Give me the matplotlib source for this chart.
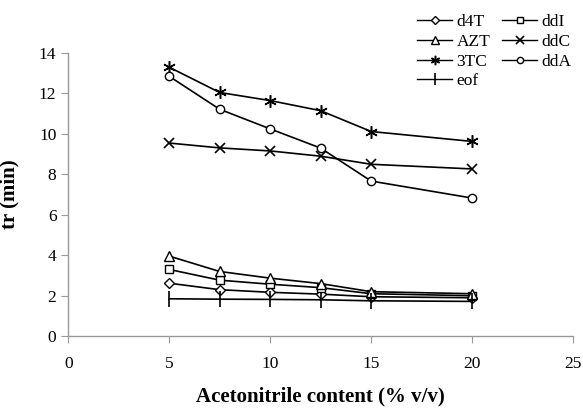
import matplotlib
matplotlib.use("Agg")
import matplotlib.pyplot as plt
from matplotlib.lines import Line2D

x = [5, 7.5, 10, 12.5, 15, 20]
d4T = [2.62, 2.3, 2.17, 2.08, 1.95, 1.9]
ddI = [3.3, 2.77, 2.57, 2.4, 2.1, 2.0]
AZT = [3.96, 3.2, 2.87, 2.6, 2.2, 2.1]
ddC = [9.55, 9.31, 9.16, 8.9, 8.5, 8.27]
TC3 = [13.3, 12.05, 11.65, 11.15, 10.12, 9.63]
ddA = [12.85, 11.22, 10.25, 9.3, 7.67, 6.83]
eof = [1.85, 1.83, 1.82, 1.8, 1.75, 1.72]

plt.rcParams['font.family'] = ['Liberation Serif', 'DejaVu Serif']

fig = plt.figure(figsize=(5.83, 4.08), dpi=100)
ax = fig.add_axes([0.117, 0.176, 0.866, 0.694])

series = [
    ("d4T", d4T, dict(marker="D", ms=5)),
    ("ddI", ddI, dict(marker="s", ms=6)),
    ("AZT", AZT, dict(marker="^", ms=7)),
    ("ddC", ddC, dict(marker="x", ms=7, mew=1.2)),
    ("3TC", TC3, dict(marker=(6, 2, 0), ms=9, mew=1.1)),
    ("ddA", ddA, dict(marker="o", ms=6)),
    ("eof", eof, dict(marker="|", ms=11, mew=1.2)),
]
handles = {}
for name, ys, kw in series:
    ln, = ax.plot(x, ys, color="black", lw=1.2, mfc="white", mec="black", label=name, **kw)
    handles[name] = ln

ax.set_xlim(0, 25)
ax.set_ylim(0, 14)
ax.set_xticks([0, 5, 10, 15, 20, 25])
ax.set_yticks([0, 2, 4, 6, 8, 10, 12, 14])
for s in ["top", "right"]:
    ax.spines[s].set_visible(False)
for s in ["left", "bottom"]:
    ax.spines[s].set_color("#999999")
    ax.spines[s].set_linewidth(1)
ax.tick_params(axis="both", direction="out", color="#999999", length=5, labelsize=12.5)
ax.tick_params(axis="x", pad=9)
ax.set_xlabel("Acetonitrile content (% v/v)", fontsize=15, fontweight="bold", labelpad=11)
ax.set_ylabel("tr (min)", fontsize=15, fontweight="bold", labelpad=14)

order = ["d4T", "AZT", "3TC", "eof", "ddI", "ddC", "ddA"]
leg_handles = []
for name in order:
    h = handles[name]
    leg_handles.append(Line2D([], [], color="black", lw=1.0, marker=h.get_marker(),
                              ms=h.get_markersize() * 0.75, mfc="white", mec="black",
                              mew=h.get_markeredgewidth()))
leg = fig.legend(leg_handles, order, ncol=2, loc="upper left",
                 bbox_to_anchor=(0.716, 0.965), frameon=False, fontsize=12.5,
                 handlelength=2.0, handletextpad=0.25, columnspacing=0.7,
                 labelspacing=0.2, borderpad=0, borderaxespad=0)

fig.savefig("out.png", dpi=100)
